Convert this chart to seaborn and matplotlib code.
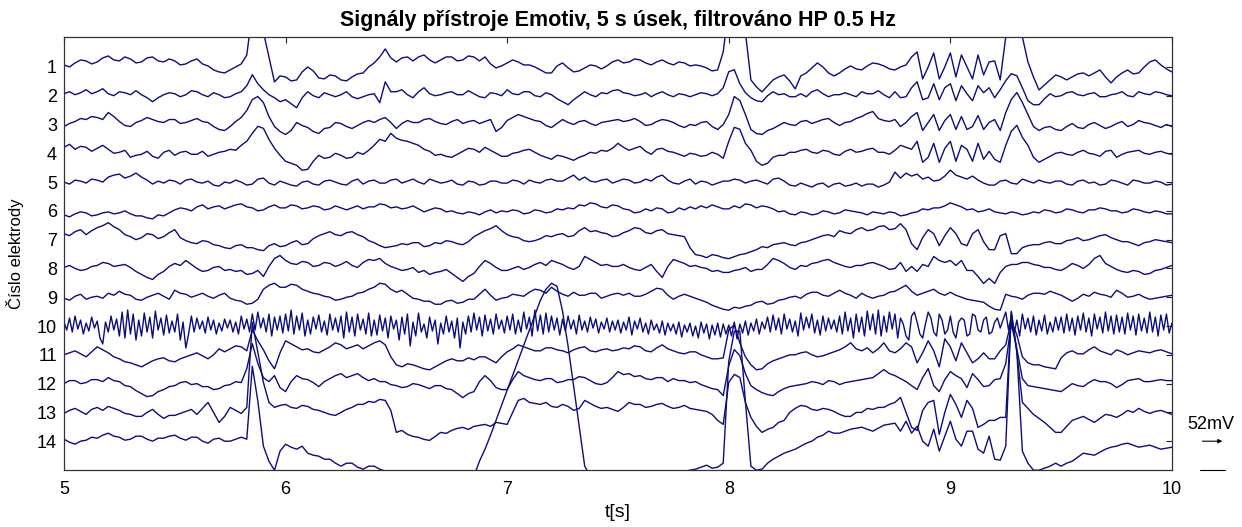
import matplotlib
matplotlib.use("Agg")
import matplotlib.pyplot as plt
import numpy as np
import pandas as pd
import seaborn as sns

# ==============================================================================: DATA
# amplitudes every 0.025 s (5 s -> 201 samples),
# channel 10 every 0.0125 s (fast activity); 28.8 units ~ one channel spacing (52 mV)
T_START, T_END = 5, 10
UNITS_PER_CHANNEL = 28.8
SCALE_LABEL = "52mV"

CH1 = [2, 0, 4, 7, 6, 3, 5, 9, 11, 7, 6, 10, 8, 4, 5, 9, 10, 6, 5, 8,
       6, 2, 3, 6, 8, 3, 1, -3, -5, -6, -3, 0, 3, 12, 55, 62, 35, 10, -15, -9,
       -10, -14, -13, -5, 0, -4, -11, -12, -8, -9, -13, -14, -10, -7, -6, 0, 4, 10, 18, 9,
       5, 9, 10, 6, 10, 12, 7, 4, 7, 10, 10, 6, 7, 11, 10, 6, 10, 3, -1, 1,
       4, 7, 5, 2, 2, 0, -3, -6, -6, 1, 4, -1, -5, -4, -1, 2, 1, -2, 1, 5,
       7, 4, 5, 8, 7, 4, 2, 5, 7, 4, 2, 5, 4, 1, 2, 1, -1, -4, -3, 15,
       60, 70, 60, 35, -13, -20, -25, -19, -13, -10, -8, -14, -22, -9, -6, -1, 4, 0, -6, -9,
       -6, -2, 1, -2, -3, 1, 4, 3, 1, -2, -3, 0, 2, 10, 15, -12, 0, 14, -12, 0,
       14, -10, 12, 0, -12, 12, -8, 5, 6, -13, 30, 60, 60, 30, 5, -10, -23, -18, -13, -8,
       -10, -13, -10, -7, -6, -9, -6, -3, -10, -16, -10, -6, -3, -7, -6, 0, 5, 7, 2, -2, -5]
CH2 = [2, 4, 1, 3, 6, 2, 4, 7, 2, 0, 4, 3, 1, 5, 1, -2, -6, -2, 1, 3,
       2, -1, 1, 5, 4, 1, -1, 3, 1, -2, -1, 2, 4, 10, 21, 12, 6, 1, -2, -6,
       -4, -8, -12, -2, 4, 0, -2, 3, 1, -1, 1, 4, -1, -3, -1, 1, 2, -7, 14, 4,
       4, 6, 1, -2, 4, 8, 2, 0, 1, 3, 4, 1, 1, 5, 2, -1, -2, 3, 2, 0,
       6, 2, 1, 4, 4, 0, -1, 3, 1, -3, -6, -9, -4, 0, 4, 1, -1, 3, 2, 5,
       6, 3, 2, 0, 1, 3, -1, 2, 4, 1, -1, 2, 1, -1, 1, 3, 2, 0, 2, 8,
       24, 26, 12, 3, -2, -5, -6, 0, 4, 1, 2, -1, -1, 2, -1, 4, 6, 2, -1, 1,
       1, 3, 1, -1, 4, 2, 2, 5, 1, -2, 4, -2, -1, 8, 14, -4, -2, 12, -4, 8,
       12, -5, 10, 2, -5, 10, 3, 8, -2, 6, 15, 22, 20, 8, -5, -9, -9, -3, 2, -1,
       0, 3, 4, 1, 0, 2, 3, -1, -1, 1, 2, 4, 0, -1, 4, 2, 1, 4, 3, 1, 0]
CH3 = [-2, 1, 3, 6, 5, 8, 7, 5, 12, 8, 3, -1, -2, 2, 4, 7, 5, 3, 2, 5,
       5, 1, 2, 4, 6, 3, 2, -2, -5, -6, -2, 3, 7, 14, 25, 28, 22, 8, -2, -7,
       -10, -6, 2, -1, -3, -7, -9, -4, -3, 2, 1, -2, -4, -1, 2, 4, 2, 5, 7, 2,
       -4, 1, 4, 2, 2, 5, 6, 3, 1, 0, 3, 5, 1, 3, 4, 1, 3, 5, -7, -3,
       4, 7, 10, 8, 6, 4, 3, -1, -3, 1, 5, 2, 0, 3, 4, 1, -1, 2, 3, 4,
       5, 3, 4, 6, 3, -1, 0, 3, 5, 4, 2, -1, -3, 0, -1, 2, 3, -2, -5, 0,
       10, 28, 24, 10, -5, -9, -10, -6, -4, -1, 2, 0, -1, 3, 4, 1, 3, 5, 6, 2,
       -1, 2, 3, 6, 8, 11, 13, 6, 4, 3, 5, -2, 2, 8, 12, -6, 2, 10, -6, 4,
       10, -5, 8, -5, -2, 9, -5, 2, 5, -6, 12, 25, 32, 22, 10, -2, -6, -3, -2, -5,
       -6, -2, 1, -3, -4, 0, 2, -1, -4, -2, 1, 3, -2, 0, 4, 2, 1, -1, -3, 0, -2]
CH4 = [6, 9, 4, 7, 6, 2, 5, 8, 4, 0, 1, 3, -4, -2, -1, 2, -3, -5, 1, 3,
       -2, 1, 2, -1, -1, 2, -3, -1, 1, 2, 4, 3, 8, 12, 20, 27, 25, 14, 5, -2,
       -8, -10, -12, -17, -16, -8, -2, -5, -4, 0, -2, -5, -4, 1, -1, 3, 8, 14, 12, 20,
       15, 13, 12, 10, 8, 4, 2, -2, -1, -3, -4, -1, 2, 5, 4, 1, 6, 3, 0, -3,
       -3, 0, 1, 3, 4, 1, -2, -4, -6, -2, -3, -5, -7, -4, -2, 1, 0, 3, 2, 5,
       10, 6, 3, 5, 7, 2, -1, 4, 5, 2, 1, -1, -3, 0, -1, -3, -2, 1, -1, -5,
       12, 26, 24, 10, 3, -8, -12, -10, -4, -2, -2, 1, 1, 3, 4, 1, 0, 3, 2, -1,
       -2, 2, 4, 1, 2, 4, 5, 1, 1, -1, 3, 8, 6, 4, 12, -9, -4, 10, -9, 5,
       12, -8, 8, 4, -8, 10, -6, 2, -6, -9, 8, 22, 28, 16, 8, -4, -9, -6, -3, 0,
       1, -1, -2, 1, 3, 0, -1, -3, 2, 3, -4, -1, 1, 2, 3, 0, -1, 1, 2, 0, -1]
CH5 = [0, -2, 2, 1, -1, 3, 2, 0, 5, 7, 8, 4, 6, 9, 5, 2, -2, 1, -1, 2,
       1, -2, 2, 3, 0, -1, 1, -3, -4, 0, -1, 2, 0, -3, -2, 3, 4, -1, -3, 1,
       -1, -3, -4, 0, 1, -2, -3, 1, 2, 0, -2, -3, 1, 3, -2, 1, 2, -1, -1, 2,
       3, -1, 1, 3, 0, -2, 3, 1, -1, 0, 2, -2, -3, 1, 0, -3, -2, 1, 1, -1,
       -1, 2, 1, -2, 2, 0, -1, 2, 3, 1, 1, 4, 7, 2, 5, 1, 0, 2, 3, -1,
       1, 3, 2, -1, 0, 3, 1, 5, 7, 2, -1, -2, 1, 3, -2, 1, 0, -3, -1, 1,
       1, 3, 2, -1, 1, 2, 0, -2, 3, 4, 1, -3, -4, -1, -3, -5, -2, -1, -5, -2,
       -1, -4, -3, -1, -4, -2, -2, -5, -3, 0, 10, 4, 9, 6, 8, 3, 5, 1, 2, 6,
       12, 7, 5, 3, 6, 2, -1, -3, -3, 1, 2, -1, -2, 3, 1, -1, 2, 0, -1, 1,
       1, -2, -3, 1, 2, -1, 0, -3, -2, 2, 1, -1, -3, 2, 1, -1, -1, 1, 0, -3, -2]
CH6 = [-4, -6, -3, -1, -2, -5, -4, -2, -1, -3, -2, 0, -3, -5, -5, -7, -8, -4, -5, -2,
       1, 3, 2, 0, 4, 6, 2, 4, 5, 2, 4, 6, 7, 4, 3, 0, 1, 4, 6, 3,
       3, 6, 5, 2, 3, 5, 4, 1, 2, 5, 3, 1, 3, 5, 2, 4, 4, 7, 6, 3,
       4, 2, 3, 5, 2, -1, 1, 3, 2, -1, 0, -2, -3, -1, -2, -4, -1, 1, -2, 0,
       -1, 1, 0, -3, -2, 1, 0, -2, -1, 2, 1, 3, 2, 6, 5, 8, 7, 4, 3, 6,
       5, 2, 1, -2, -1, 2, 0, 3, 2, -2, -1, 3, 1, 4, 2, 5, 3, 6, 4, 2,
       2, 5, 3, 7, 6, 3, 5, 4, 2, -1, 0, -3, -4, -1, -2, -4, -3, 0, -1, -3,
       -2, 1, 0, -1, -2, -4, -1, -2, -3, -1, -2, -5, -4, -2, -1, 2, 1, 3, 3, 5,
       8, 6, 4, 1, 2, -1, 0, 2, -1, -2, -3, -1, -2, -4, -3, -1, -2, 1, 0, -2,
       -1, 2, 1, -1, -2, 1, 1, 3, 2, 0, 0, -2, -1, 2, 1, -1, -2, 0, -1, -3, -3]
CH7 = [6, 4, 8, 10, 5, 9, 12, 14, 17, 13, 10, 5, 3, 0, 2, 6, 5, 1, 3, 7,
       10, 2, -1, -3, -4, -1, -2, -5, -6, -8, -9, -6, -5, -8, -8, -10, -11, -6, -4, -7,
       -6, -3, -1, -5, -4, 1, 4, 6, 8, 5, 4, 7, 8, 5, 3, -1, -3, -6, -8, -7,
       -6, -4, -5, -3, -3, -7, -6, -3, -4, -1, -2, -4, -5, -2, 3, 6, 9, 11, 14, 9,
       5, 3, 2, -1, -2, -1, 1, 4, 3, 5, 6, 3, 4, 9, 12, 8, 9, 7, 6, 3,
       4, 7, 9, 12, 11, 7, 6, 9, 10, 6, 5, 4, 3, -8, -15, -16, -18, -15, -16, -18,
       -19, -17, -15, -14, -12, -10, -7, -8, -5, -4, -3, -5, -6, -3, -2, 0, 2, 4, 5, 3,
       9, 7, 6, 10, 12, 9, 10, 13, 14, 10, 11, 16, 10, -4, -10, 2, 10, 6, -6, 4,
       12, 6, -4, -6, 6, 10, -2, -10, -10, 4, 6, -14, -14, -8, -6, -5, -5, -3, -2, -4,
       -4, -1, 0, 2, -1, 0, 2, 4, 5, 2, 0, -2, -2, -4, -6, -3, -2, 0, -1, -2, -3]
CH8 = [1, 3, 0, -2, -1, 2, 3, 6, 5, 2, 3, 4, 1, -3, -6, -9, -11, -6, -3, 2,
       5, 3, 8, 4, 0, -3, -2, 1, 2, -2, -1, -3, -2, -6, -5, -2, -8, 2, 10, 13,
       8, 5, 4, 7, 6, 2, 3, 6, 5, 2, 4, 7, 3, 1, 6, 9, 8, 10, 5, 2,
       0, -2, -1, 1, -4, -2, -6, -4, -3, -1, -5, -9, -13, -8, -5, 2, 8, 5, 1, -2,
       -2, 0, 2, -1, 1, 4, 6, 3, 8, 6, 4, 1, -1, 2, 12, 9, 6, 3, 4, 2,
       2, 4, 1, -1, -2, 1, 4, -3, -9, 2, 9, 7, 5, 2, 3, 1, 0, -3, -2, -4,
       -4, -2, -1, 1, -3, -1, -1, 4, 10, 8, 5, 1, -1, 3, 2, 5, 6, 8, 9, 6,
       4, 2, 1, 3, 3, 5, 6, 4, 2, -1, 0, 6, -3, 2, -3, 4, 2, 12, 8, 6,
       8, 3, 8, -2, -2, -8, -15, -10, -15, -4, 2, 4, 4, 6, 6, 4, 3, 1, 1, -1,
       -2, 1, 5, 3, 0, 4, 10, 13, 5, 2, -1, -3, -4, -2, -3, -6, -5, -2, -1, 1, 3]
CH9 = [-1, -3, 1, 3, -2, 0, 1, -1, 4, 2, 6, 3, 2, -2, -3, 0, 2, 4, 1, -2,
       7, 4, 3, 0, 2, 4, 1, -1, 2, 4, -1, -3, -4, -7, -6, -2, 8, 12, 14, 10,
       10, 13, 12, 8, 6, 4, 3, 1, 0, -3, -2, 0, 1, 4, 5, 8, 10, 14, 13, 8,
       5, 7, 3, -1, -2, -4, -4, -7, -7, -4, -3, -6, -5, -2, -2, 3, 8, 2, -3, -1,
       0, 3, 2, 1, 5, 8, 7, 4, 10, 6, 3, 1, 5, 2, 2, 4, 4, -1, 1, 3,
       4, 2, 4, 1, 1, 3, 6, 9, 8, 2, -2, 1, 3, 1, -1, -3, -5, -8, -10, -12,
       -13, -10, -11, -9, -8, -5, -4, -7, -6, -3, -2, 0, 1, -1, 3, 5, 5, 2, 1, 4,
       7, 4, 2, -1, 4, 1, -1, 1, 2, 5, 6, 9, 12, 6, 2, 4, 6, 8, 4, 2,
       5, 2, 0, -2, -3, -4, -5, -9, -12, -13, 3, 1, 0, -2, 2, 4, 4, 3, 6, 4,
       2, -1, -4, -1, 3, 1, 5, 3, 2, 0, 7, 4, 0, 1, 3, 0, -2, -1, 0, 1, 2]
CH10 = [4, -4, 8, -6, 10, -3, 6, -8, 3, -5, 9, -2, 5, -12, -18, 4, -6, 10, -4, 7,
        -10, 14, -12, 16, -8, 12, -14, 6, -10, 13, -6, 9, -12, 15, -4, 8, -9, 11, -7, 5,
        -6, 12, -14, 4, -22, -8, 10, -6, 8, -3, 5, -7, 9, -4, 6, -8, 3, -5, 7, -2,
        6, -6, 4, -8, 10, -3, 7, -6, 12, -4, 14, -2, 8, -6, 12, -10, 9, -4, 10, -7,
        12, -5, 16, -8, 10, -4, 13, -10, 6, -8, 9, -3, 11, -6, 5, -9, 12, -4, 8, -6,
        10, -12, 14, -6, 9, -10, 12, -4, 7, -8, 13, -10, 6, -9, 11, -5, 8, -12, 10, -3,
        6, -14, 9, -8, 12, -20, 4, -10, 13, -6, 2, -12, 9, -5, 6, -18, 3, -8, 10, -6,
        5, -12, 8, -22, 4, -8, 10, -6, 13, -4, 9, -10, 11, -5, 7, -8, 12, -3, 6, -7,
        10, -4, 12, -8, 6, -6, 14, -3, 9, -10, 16, -5, 11, -8, 13, -6, 10, -4, 8, -9,
        7, -5, 10, -3, 6, -8, 11, -4, 5, -6, 9, -2, 7, -7, 4, -3, 8, -6, 5, -4,
        6, -7, 4, -4, 9, -9, 5, -3, 8, -6, 3, -8, 6, -4, 2, -7, 5, -9, 3, -5,
        2, -8, 4, -11, 1, -6, 3, -10, 0, -12, 4, -7, 2, -13, 1, -9, 3, -11, 2, -8,
        1, -10, 4, -13, 2, -7, 5, -9, 3, -5, 7, -8, 4, -3, 9, -6, 11, -4, 8, -8,
        12, -3, 7, -6, 5, -10, 13, -4, 9, -2, 12, -7, 6, -9, 10, -5, 8, -3, 6, -6,
        10, -8, 14, -5, 8, -12, 12, -6, 9, -10, 15, -4, 12, -8, 16, -10, 10, -6, 14, -3,
        12, -12, 8, 2, -10, -14, 10, 14, 4, -8, -12, 2, 14, 8, -6, -10, 12, 6, -8, -4,
        10, -6, -12, 4, 8, 6, -10, -8, 12, 10, -4, -6, 6, 9, -8, -6, 4, 8, -2, 6,
        14, -4, 10, -8, 6, -10, 12, -3, 8, -6, 10, -9, 6, -5, 11, -8, 4, -6, 9, -4,
        9, -7, 12, -5, 8, -9, 10, -4, 13, -6, 8, -10, 12, -3, 9, -7, 14, -5, 10, -8,
        11, -6, 9, -8, 13, -4, 10, -9, 12, -5, 8, -7, 14, -6, 9, -10, 11, -4, 12, -7, 3]
CH11 = [0, 2, 4, 1, -2, 3, 8, 5, 2, -2, -4, -7, -8, -10, -12, -9, -6, -4, -3, -6,
        -7, -4, -2, 0, 2, -1, -4, 0, 6, 3, 6, 9, 8, 4, 25, 14, 5, -6, -14, 2,
        14, 11, 8, 5, 6, 3, 2, 5, 8, 12, 10, 6, 8, 10, 6, 9, 12, 14, 10, -2,
        -10, -12, -9, -10, -12, -14, -15, -12, -9, -6, -4, -6, -6, -3, -5, -2, -2, -5, -8, -2,
        3, 6, 10, 8, 6, 4, 4, 7, 7, 5, 4, 2, 5, 7, 8, 4, 3, 5, 6, 4,
        5, 7, 6, 9, 8, 4, 3, 7, 10, 6, 4, 2, 1, 3, 3, 0, -2, -4, -4, -3,
        25, 30, 12, -2, -10, -15, -14, -9, -6, -4, -2, 0, 0, 2, 3, 0, -2, -1, 1, 3,
        5, 8, 12, 6, 4, 7, 2, 6, 12, 4, 2, 6, 12, 8, -8, 2, 14, 4, -12, 16,
        8, -6, 12, 2, -8, -4, 2, -4, -4, 4, 10, 34, 20, -2, -8, -10, -10, -12, -13, -14,
        -3, 2, 4, 1, 1, 5, 8, 4, 2, 0, 5, 3, 0, 2, 4, 3, 2, 4, 5, 3, 1]
CH12 = [0, 3, 3, 0, 1, 4, 4, 2, 6, 3, 2, -2, -3, -7, -10, -13, -12, -8, -6, -3,
        -2, 1, 2, -1, 0, -3, -3, -6, -5, -2, -1, 2, 1, 15, 40, 20, 6, 2, 8, -4,
        -8, 2, 8, 5, 4, 1, -3, 2, 5, 8, 10, 6, 8, 10, 6, 3, 5, 2, 2, -1,
        -2, -4, -3, 0, -1, -3, -5, -2, -2, -5, -6, -10, -14, -10, -8, 2, 8, 3, -4, -6,
        -6, 4, 12, 8, 6, 4, 3, 5, 5, 1, 2, 4, 4, 7, 6, 3, 0, -1, 1, 6,
        12, 9, 10, 7, 8, 5, 4, 6, 6, 2, 5, 3, 3, 1, 2, -1, -3, -5, -6, -12,
        18, 34, 28, 10, -2, -6, -9, -11, -12, -8, -5, -3, -2, -1, 0, 2, 1, -1, 3, 2,
        -1, 1, 2, 3, 4, 5, 6, 10, 14, 10, 8, 5, 2, -2, -6, 6, 15, -2, -8, 4,
        12, 8, 5, -4, 10, 4, -3, -2, 4, 5, 20, 60, 35, 5, -2, -3, -4, -5, -6, -7,
        -8, -4, 0, -2, -3, 1, 4, 2, 2, 0, -4, -1, 3, 4, 5, 2, 2, 3, 4, 3, 3]
CH13 = [-1, 2, 4, 1, -2, 3, 5, 2, 6, 4, 2, -1, -2, -4, -4, 0, 3, -2, -6, -3,
        -3, -1, 1, 3, -2, 4, 10, 0, -10, -4, 5, 2, -1, 5, 90, 60, 30, 10, 5, 7,
        8, 5, 4, 7, 6, 3, 2, 0, -2, -3, 0, 3, 5, 8, 8, 11, 10, 13, 12, 2,
        -20, -18, -22, -24, -25, -27, -28, -24, -20, -21, -18, -16, -15, -17, -14, -13, -12, -14, -10, -11,
        -12, 0, 12, 14, 10, 9, 8, 10, 6, 5, 8, 6, 2, 4, 12, 9, 6, 4, 5, 3,
        1, 5, 10, 8, 8, 5, 6, 8, 9, 6, 4, 5, 7, 4, 3, 2, 1, -2, -8, -12,
        30, 38, 35, 10, -5, -14, -20, -17, -15, -10, -8, 0, 4, 7, 6, 3, 2, 4, 3, 1,
        -2, -4, -4, 0, 0, 4, 3, 5, 5, 8, 10, 15, 0, -15, -18, 2, 10, 12, -22, 0,
        18, 8, -5, 12, 4, -15, -12, -8, -8, -5, -5, 100, 60, 10, 4, -2, -6, -10, -15, -20,
        -20, -14, -8, -6, -4, -7, -10, -6, -2, -3, -5, -2, 2, 0, 4, 1, -1, 1, 2, 0, -2]
CH14 = [2, -1, -3, 0, 1, 4, 3, 6, 8, 5, 4, 1, 2, 5, 5, 2, 0, 3, 3, 5,
        6, 3, 1, 4, 4, 0, -2, 2, 3, 0, 0, 2, 4, 2, 75, 40, -5, -20, -29, -10,
        -3, -6, -8, -5, -12, -14, -15, -18, -18, -22, -25, -22, -22, -26, -28, -25, -25, -28, -30, -32,
        -35, -38, -40, -40, -40, -40, -40, -40, -40, -40, -40, -40, -40, -40, -35, -20, -8, 6, 21, 36,
        51, 66, 81, 96, 111, 126, 141, 152, 158, 155, 130, 95, 55, 15, -25, -35, -40, -42, -45, -45,
        -45, -42, -40, -40, -40, -39, -38, -36, -35, -33, -32, -31, -30, -29, -28, -26, -24, -27, -26, -22,
        80, 110, 110, 40, -25, -29, -28, -22, -18, -15, -12, -10, -8, -5, -2, 0, 4, 6, 10, 8,
        8, 10, 12, 13, 14, 12, 10, 13, 16, 17, 18, 10, 20, 8, 15, 0, -5, 12, -10, 5,
        20, 2, -5, 10, 10, -8, -12, 5, -18, -19, -5, 130, 90, -10, -22, -29, -29, -27, -25, -22,
        -25, -22, -20, -16, -12, -13, -14, -11, -8, -6, -5, -3, -2, -4, -6, -5, -4, -6, -8, -7, -6]

CHANNELS = [CH1, CH2, CH3, CH4, CH5, CH6, CH7, CH8, CH9, CH10, CH11, CH12, CH13, CH14]
LINE_COLOR = "#0c0c7a"


def get_data():
    frames = []
    for k, vals in enumerate(CHANNELS, start=1):
        t = np.linspace(T_START, T_END, len(vals))
        y = k - np.asarray(vals, dtype=float) / UNITS_PER_CHANNEL
        frames.append(pd.DataFrame({"t": t, "y": y, "ch": k}))
    return pd.concat(frames, ignore_index=True)


# ==============================================================================: PLOT
def plot(df):
    sns.set_style("white")
    plt.rcParams["font.family"] = ["Liberation Sans", "DejaVu Sans"]
    plt.rcParams["text.color"] = "black"
    plt.rcParams["axes.labelcolor"] = "black"

    fig = plt.figure(figsize=(12.42, 5.27), dpi=100)
    ax = fig.add_axes([0.0515, 0.1082, 0.8921, 0.8216])

    sns.lineplot(data=df, x="t", y="y", units="ch", estimator=None, sort=False,
                 color=LINE_COLOR, linewidth=1.0, ax=ax)

    ax.set_xlim(T_START, T_END)
    ax.set_ylim(15, -0.04)
    ax.set_xticks(range(T_START, T_END + 1))
    ax.set_yticks(range(1, len(CHANNELS) + 1))
    ax.set_yticklabels([str(k) for k in range(1, len(CHANNELS) + 1)])
    ax.tick_params(direction="in", top=True, right=True, length=4, width=0.8,
                   labelsize=13, colors="#222222", labelcolor="black")
    ax.tick_params(axis="x", pad=8)
    ax.tick_params(axis="y", pad=5)
    for sp in ax.spines.values():
        sp.set_color("#333333")
        sp.set_linewidth(0.9)

    ax.set_title("Signály přístroje Emotiv, 5 s úsek, filtrováno HP 0.5 Hz",
                 fontsize=15.5, fontweight="bold", pad=8, color="black")
    ax.set_xlabel("t[s]", fontsize=14, labelpad=4)
    ax.set_ylabel("Číslo elektrody", fontsize=12, labelpad=9)

    # scale marker to the right of the axes
    ax.annotate("", xy=(10.24, 14), xytext=(10.125, 14), annotation_clip=False,
                arrowprops=dict(arrowstyle="-|>", lw=0.8, color="black", mutation_scale=6))
    ax.plot([10.125, 10.24], [15, 15], color="black", lw=0.8, clip_on=False)
    ax.text(10.176, 13.43, SCALE_LABEL, fontsize=13, ha="center", va="center", clip_on=False)

    fig.savefig("out.png", dpi=100)


# ==============================================================================: MAIN
def main():
    plot(get_data())


if __name__ == "__main__":
    main()
